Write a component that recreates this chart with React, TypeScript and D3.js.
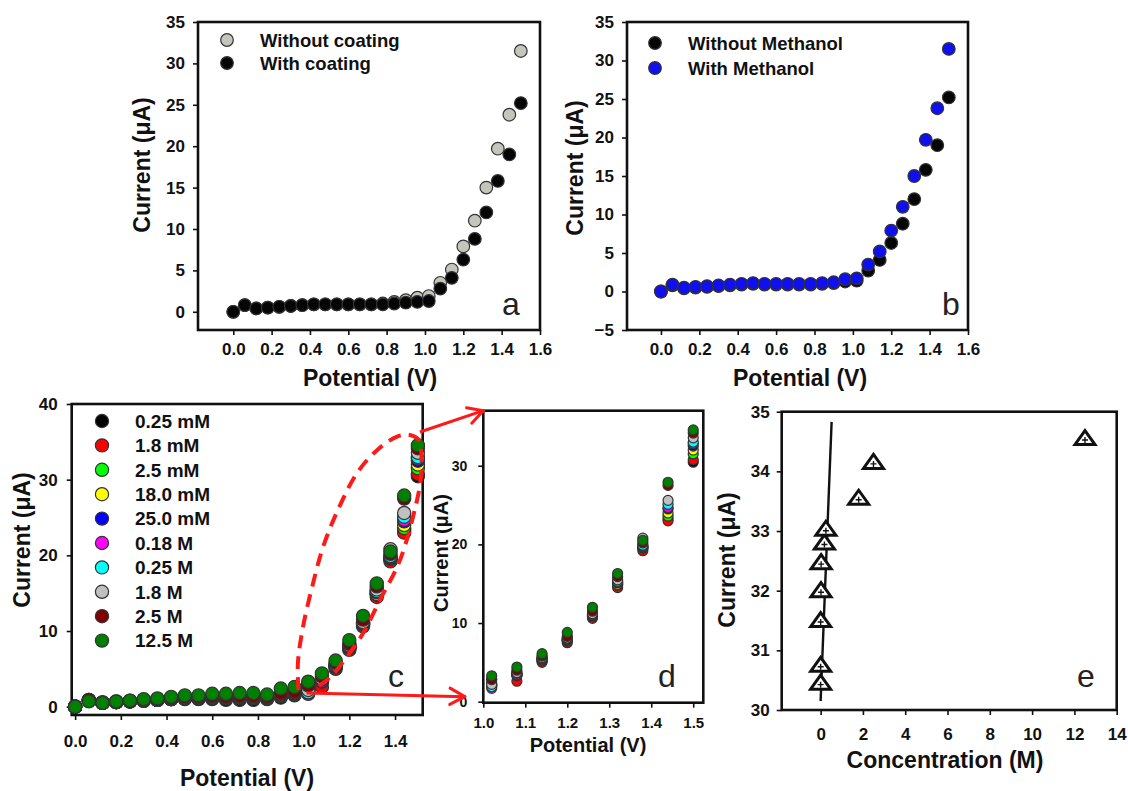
import React, { useEffect, useRef } from 'react';
import * as d3 from 'd3';

const FONT = '"Liberation Sans", Arial, Helvetica, sans-serif';

// potential (V) at which every curve was sampled
const potentials = [0.0, 0.06, 0.12, 0.18, 0.24, 0.3, 0.36, 0.42, 0.48, 0.54, 0.6, 0.66, 0.72, 0.78, 0.84, 0.9, 0.96, 1.02, 1.08, 1.14, 1.2, 1.26, 1.32, 1.38, 1.44, 1.5];

// panel a
const withoutCoating = [0, 0.8, 0.4, 0.5, 0.6, 0.7, 0.8, 0.9, 0.9, 0.9, 0.9, 0.9, 0.9, 1.0, 1.2, 1.4, 1.7, 1.9, 3.5, 5.1, 7.9, 11.0, 15.0, 19.7, 23.8, 31.5];
const withCoating = [0, 0.8, 0.4, 0.5, 0.6, 0.7, 0.8, 0.9, 0.9, 0.9, 0.9, 0.9, 0.9, 0.9, 1.0, 1.1, 1.2, 1.3, 2.8, 4.1, 6.3, 8.8, 12.0, 15.8, 19.0, 25.2];

// panel b
const withoutMethanol = [0, 0.8, 0.4, 0.5, 0.6, 0.7, 0.8, 0.9, 1.0, 0.9, 0.9, 0.9, 0.9, 0.9, 1.0, 1.1, 1.3, 1.4, 2.7, 4.1, 6.3, 8.8, 12.0, 15.8, 19.0, 25.2];
const withMethanol = [0, 0.9, 0.5, 0.6, 0.7, 0.8, 0.9, 1.0, 1.1, 1.0, 1.0, 1.0, 1.0, 1.0, 1.1, 1.2, 1.6, 1.7, 3.5, 5.2, 7.9, 11.0, 15.0, 19.7, 23.8, 31.5];

// panels c and d (d is the 1.02-1.50 V zoom of c)
const concLabels = ['0.25 mM', '1.8 mM', '2.5 mM', '18.0 mM', '25.0 mM', '0.18 M', '0.25 M', '1.8 M', '2.5 M', '12.5 M'];
const concColors = ['#000000', '#ff0000', '#00ff00', '#ffff00', '#0000ff', '#ff00ff', '#00ffff', '#c0c0c0', '#800000', '#008000'];
const cur_0_25mM = [0, 0.9, 0.5, 0.6, 0.7, 0.8, 0.9, 1.0, 1.0, 1.0, 1.0, 0.9, 0.9, 0.9, 1.0, 1.2, 1.5, 2.4, 3.5, 5.3, 7.8, 10.9, 15.0, 19.5, 23.3, 30.45];
const cur_1_8mM = [0, 0.8, 0.5, 0.6, 0.7, 0.8, 0.9, 1.0, 1.1, 1.1, 1.2, 1.1, 1.2, 1.2, 1.1, 1.5, 1.9, 2.9, 2.6, 5.0, 7.5, 10.6, 14.5, 19.2, 23.0, 30.75];
const cur_2_5mM = [0, 0.8, 0.5, 0.6, 0.7, 0.8, 0.9, 1.0, 1.1, 1.1, 1.1, 1.1, 1.1, 1.1, 1.1, 1.4, 1.7, 2.2, 3.3, 5.2, 7.7, 10.8, 14.8, 19.5, 23.6, 31.5];
const cur_18mM = [0, 0.8, 0.5, 0.6, 0.7, 0.8, 0.9, 1.0, 1.1, 1.1, 1.2, 1.1, 1.2, 1.2, 1.1, 1.4, 1.7, 2.1, 3.4, 5.3, 7.8, 10.9, 14.9, 19.6, 24.0, 32.0];
const cur_25mM = [0, 0.8, 0.5, 0.6, 0.7, 0.8, 0.9, 1.0, 1.1, 1.1, 1.2, 1.2, 1.2, 1.2, 1.2, 1.5, 1.8, 2.0, 3.5, 5.4, 7.9, 11.0, 15.1, 19.7, 24.5, 32.5];
const cur_0_18M = [0, 0.8, 0.5, 0.6, 0.7, 0.8, 0.9, 1.0, 1.1, 1.2, 1.2, 1.2, 1.2, 1.2, 1.2, 1.5, 1.8, 1.7, 3.4, 5.4, 7.9, 11.0, 15.2, 19.8, 24.7, 32.8];
const cur_0_25M = [0, 0.8, 0.5, 0.6, 0.7, 0.8, 0.9, 1.1, 1.2, 1.2, 1.3, 1.2, 1.3, 1.3, 1.2, 1.6, 1.9, 1.9, 3.6, 5.5, 8.0, 11.1, 15.3, 19.9, 25.1, 33.0];
const cur_1_8M = [0, 0.8, 0.5, 0.6, 0.7, 0.8, 1.0, 1.1, 1.2, 1.2, 1.3, 1.3, 1.3, 1.3, 1.3, 1.7, 2.0, 2.2, 3.7, 5.6, 8.1, 11.2, 15.5, 20.8, 25.6, 33.55];
const cur_2_5M = [0, 0.9, 0.6, 0.7, 0.8, 0.9, 1.0, 1.2, 1.3, 1.3, 1.4, 1.3, 1.4, 1.4, 1.3, 1.8, 2.0, 2.8, 4.0, 5.8, 8.3, 11.5, 15.9, 20.2, 27.5, 34.15];
const cur_12_5M = [0, 0.7, 0.5, 0.7, 0.8, 1.0, 1.1, 1.3, 1.5, 1.5, 1.7, 1.7, 1.8, 1.8, 1.6, 2.4, 2.6, 3.3, 4.4, 6.1, 8.8, 12.0, 16.3, 20.5, 27.9, 34.55];
const concSeries = [cur_0_25mM, cur_1_8mM, cur_2_5mM, cur_18mM, cur_25mM, cur_0_18M, cur_0_25M, cur_1_8M, cur_2_5M, cur_12_5M];

// panel e: current at 1.5 V vs concentration, with the low range fit
const eConcentration = [0.00025, 0.0018, 0.0025, 0.018, 0.025, 0.18, 0.25, 1.8, 2.5, 12.5];
const eCurrent = [30.45, 30.75, 31.5, 32.0, 32.47, 32.8, 33.03, 33.55, 34.15, 34.55];
const fitConc = [0, 0.52];
const fitCurrent = [30.15, 34.83];

// red dashed lasso around the rising part of c (in c's data units)
const lasso = [[0.977, 2.2], [0.975, 5.8], [0.997, 10.5], [1.037, 15.8], [1.085, 21.1], [1.15, 26.0], [1.234, 30.9], [1.321, 33.9], [1.409, 35.7], [1.465, 35.9], [1.505, 35.2], [1.515, 33.6], [1.512, 30.0], [1.49, 26.5], [1.422, 19.4], [1.334, 14.1], [1.26, 9.7], [1.19, 6.6], [1.116, 3.9], [1.04, 2.2]];

const INK = '#111';

function drawFrame(g, x, y, o) {
  const [x0, x1] = x.range();
  const [y0, y1] = y.range();
  g.append('rect')
    .attr('x', x0).attr('y', y1)
    .attr('width', x1 - x0).attr('height', y0 - y1)
    .attr('fill', 'none').attr('stroke', INK).attr('stroke-width', 2.6);

  const xa = g.append('g')
    .attr('transform', `translate(0,${y0})`)
    .call(d3.axisBottom(x).tickValues(o.xTicks).tickFormat(o.xFmt).tickSize(5).tickPadding(o.xPad));
  xa.select('.domain').remove();
  xa.attr('font-family', FONT).attr('font-size', o.xTickSize || o.tickSize).attr('font-weight', 'bold');
  xa.selectAll('line').attr('stroke', INK).attr('stroke-width', 1.6);
  xa.selectAll('text').attr('fill', INK);

  const ya = g.append('g')
    .attr('transform', `translate(${x0},0)`)
    .call(d3.axisLeft(y).tickValues(o.yTicks).tickFormat(o.yFmt).tickSize(5).tickPadding(o.yPad));
  ya.select('.domain').remove();
  ya.attr('font-family', FONT).attr('font-size', o.tickSize).attr('font-weight', 'bold');
  ya.selectAll('line').attr('stroke', INK).attr('stroke-width', 1.6);
  ya.selectAll('text').attr('fill', INK);

  g.append('text')
    .attr('x', o.xTitle[0]).attr('y', o.xTitle[1])
    .attr('text-anchor', 'middle')
    .attr('font-family', FONT).attr('font-weight', 'bold').attr('font-size', o.titleSize)
    .attr('fill', INK)
    .text(o.xLabel);

  g.append('text')
    .attr('transform', `translate(${o.yTitle[0]},${o.yTitle[1]}) rotate(-90)`)
    .attr('text-anchor', 'middle').attr('dy', '0.35em')
    .attr('font-family', FONT).attr('font-weight', 'bold').attr('font-size', o.titleSize)
    .attr('fill', INK)
    .text('Current (\u03bcA)');

  g.append('text')
    .attr('x', o.letter[0]).attr('y', o.letter[1])
    .attr('font-family', FONT).attr('font-size', 32)
    .attr('fill', '#222')
    .text(o.letterText);
}

function drawDots(g, x, y, xs, ys, fill, r) {
  g.append('g')
    .selectAll('circle')
    .data(xs.map((v, i) => [v, ys[i]]))
    .join('circle')
    .attr('cx', (d) => x(d[0]))
    .attr('cy', (d) => y(d[1]))
    .attr('r', r)
    .attr('fill', fill)
    .attr('stroke', '#333')
    .attr('stroke-width', 1.2);
}

function drawLegend(g, items, mx, tx, ys, r, size) {
  items.forEach((it, i) => {
    g.append('circle').attr('cx', mx).attr('cy', ys[i]).attr('r', r)
      .attr('fill', it.fill).attr('stroke', '#333').attr('stroke-width', 1.2);
    g.append('text').attr('x', tx).attr('y', ys[i]).attr('dy', '0.36em')
      .attr('font-family', FONT).attr('font-weight', 'bold').attr('font-size', size)
      .attr('fill', INK).text(it.label);
  });
}

function arrow(g, from, to) {
  const ang = Math.atan2(to[1] - from[1], to[0] - from[0]);
  const len = 17;
  const spread = 0.5;
  g.append('line').attr('x1', from[0]).attr('y1', from[1]).attr('x2', to[0]).attr('y2', to[1])
    .attr('stroke', '#ff1a1a').attr('stroke-width', 3);
  [-spread, spread].forEach((s) => {
    g.append('line')
      .attr('x1', to[0]).attr('y1', to[1])
      .attr('x2', to[0] - len * Math.cos(ang + s)).attr('y2', to[1] - len * Math.sin(ang + s))
      .attr('stroke', '#ff1a1a').attr('stroke-width', 3).attr('stroke-linecap', 'round');
  });
}

const App = () => {
  const svgRef = useRef(null);

  useEffect(() => {
    const svg = d3.select(svgRef.current);
    svg.selectAll('*').remove();
    const f1 = d3.format('.1f');
    const f0 = d3.format('d');

    // ---- a ----
    const ga = svg.append('g');
    const xa = d3.scaleLinear().domain([-0.184, 1.6]).range([198, 540]);
    const ya = d3.scaleLinear().domain([-2.2, 35]).range([330, 22]);
    drawFrame(ga, xa, ya, {
      xTicks: d3.range(0, 1.61, 0.2), yTicks: d3.range(0, 36, 5), xFmt: f1, yFmt: f0,
      xPad: 8, yPad: 8, tickSize: 17, titleSize: 23,
      xLabel: 'Potential (V)', xTitle: [370, 386], yTitle: [142, 165],
      letter: [502, 315], letterText: 'a',
    });
    drawDots(ga, xa, ya, potentials, withoutCoating, '#c4c6bc', 6.3);
    drawDots(ga, xa, ya, potentials, withCoating, '#050505', 6.3);
    drawLegend(ga, [{ label: 'Without coating', fill: '#c4c6bc' }, { label: 'With coating', fill: '#050505' }], 227, 260, [40, 63], 6.3, 18.5);

    // ---- b ----
    const gb = svg.append('g');
    const xb = d3.scaleLinear().domain([-0.177, 1.6]).range([627, 968]);
    const yb = d3.scaleLinear().domain([-5, 35]).range([330, 22]);
    drawFrame(gb, xb, yb, {
      xTicks: d3.range(0, 1.61, 0.2), yTicks: d3.range(-5, 36, 5), xFmt: f1, yFmt: f0,
      xPad: 8, yPad: 8, tickSize: 17, titleSize: 23,
      xLabel: 'Potential (V)', xTitle: [800, 386], yTitle: [575, 168],
      letter: [942, 315], letterText: 'b',
    });
    drawDots(gb, xb, yb, potentials, withoutMethanol, '#050505', 6.3);
    drawDots(gb, xb, yb, potentials, withMethanol, '#1010ee', 6.3);
    drawLegend(gb, [{ label: 'Without Methanol', fill: '#050505' }, { label: 'With Methanol', fill: '#1010ee' }], 655, 688, [43, 68], 6.3, 18.5);

    // ---- c ----
    const gc = svg.append('g');
    const xc = d3.scaleLinear().domain([-0.015, 1.521]).range([71.7, 422.7]);
    const yc = d3.scaleLinear().domain([-1.1, 40]).range([715, 404]);
    drawFrame(gc, xc, yc, {
      xTicks: d3.range(0, 1.41, 0.2), yTicks: d3.range(0, 41, 10), xFmt: f1, yFmt: f0,
      xPad: 15, yPad: 9, tickSize: 17, titleSize: 23,
      xLabel: 'Potential (V)', xTitle: [247, 786], yTitle: [22, 540],
      letter: [388, 687], letterText: 'c',
    });
    concSeries.forEach((s, i) => drawDots(gc, xc, yc, potentials, s, concColors[i], 6.6));
    drawLegend(gc, concLabels.map((l, i) => ({ label: l, fill: concColors[i] })), 102, 135,
      concLabels.map((_, i) => 421 + i * 24.4), 6.6, 19);

    // ---- d ----
    const gd = svg.append('g');
    const xd = d3.scaleLinear().domain([1.0, 1.524]).range([483.3, 703.3]);
    const yd = d3.scaleLinear().domain([-0.13, 37]).range([702.7, 410.7]);
    drawFrame(gd, xd, yd, {
      xTicks: d3.range(1.0, 1.51, 0.1), yTicks: [0, 10, 20, 30], xFmt: f1, yFmt: f0,
      xPad: 10, yPad: 11, tickSize: 14, xTickSize: 15, titleSize: 20,
      xLabel: 'Potential (V)', xTitle: [588, 752], yTitle: [441, 553],
      letter: [658, 687], letterText: 'd',
    });
    const dIdx = potentials.map((p, i) => i).filter((i) => potentials[i] >= 1.0);
    concSeries.forEach((s, i) =>
      drawDots(gd, xd, yd, dIdx.map((k) => potentials[k]), dIdx.map((k) => s[k]), concColors[i], 5));

    // ---- e ----
    const ge = svg.append('g');
    const xe = d3.scaleLinear().domain([-1.84, 14]).range([781.7, 1116.7]);
    const ye = d3.scaleLinear().domain([30, 35]).range([710, 411.7]);
    drawFrame(ge, xe, ye, {
      xTicks: d3.range(0, 15, 2), yTicks: d3.range(30, 36, 1), xFmt: f0, yFmt: f0,
      xPad: 13, yPad: 7, tickSize: 17, titleSize: 23,
      xLabel: 'Concentration (M)', xTitle: [945, 768], yTitle: [727, 560],
      letter: [1077, 687], letterText: 'e',
    });
    ge.append('path')
      .datum(fitConc.map((c, i) => [c, fitCurrent[i]]))
      .attr('d', d3.line().x((d) => xe(d[0])).y((d) => ye(d[1])))
      .attr('stroke', INK).attr('stroke-width', 2.4).attr('fill', 'none');
    const tri = ge.append('g').selectAll('g')
      .data(eConcentration.map((c, i) => [c, eCurrent[i]]))
      .join('g')
      .attr('transform', (d) => `translate(${xe(d[0])},${ye(d[1])})`);
    tri.append('path').attr('d', 'M-10,6L0,-8L10,6Z')
      .attr('fill', 'white').attr('stroke', INK).attr('stroke-width', 3).attr('stroke-linejoin', 'miter');
    tri.append('path').attr('d', 'M-3,1.5H3M0,-1.5V4.5')
      .attr('stroke', INK).attr('stroke-width', 1.4);

    // ---- zoom annotation between c and d ----
    const ann = svg.append('g');
    ann.append('path')
      .datum(lasso)
      .attr('d', d3.line().x((d) => xc(d[0])).y((d) => yc(d[1])).curve(d3.curveCatmullRom.alpha(0.5)))
      .attr('fill', 'none').attr('stroke', '#ff1a1a').attr('stroke-width', 4)
      .attr('stroke-dasharray', '13 8');
    arrow(ann, [xc(1.509), yc(36.3)], [xd(1.0), yd(37)]);
    arrow(ann, [xc(1.013), yc(1.8)], [xd(0.956), yd(0.64)]);
  }, []);

  return (
    <svg
      ref={svgRef}
      width={1128}
      height={791}
      style={{ position: 'absolute', left: 0, top: 0, background: 'white' }}
    />
  );
};

export default App;
